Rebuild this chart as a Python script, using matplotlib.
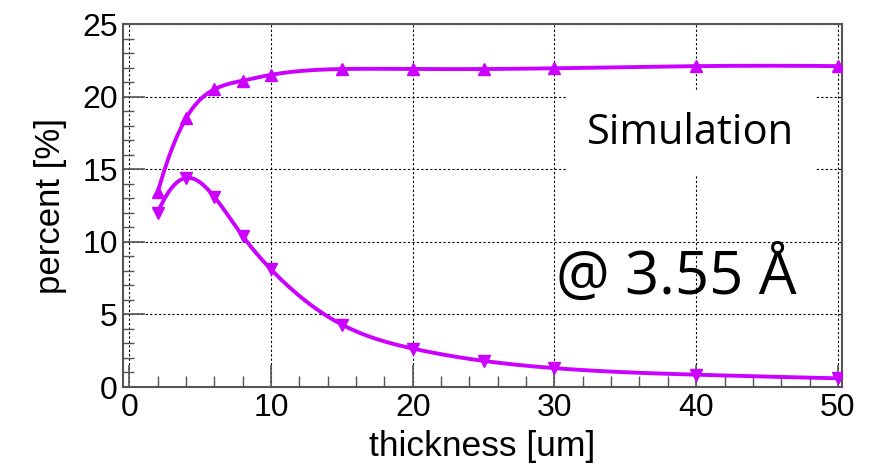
import matplotlib
matplotlib.use("Agg")
import matplotlib.pyplot as plt
import numpy as np
from matplotlib.ticker import MultipleLocator

# thickness [um] and percentages
thickness = [2, 4, 6, 8, 10, 15, 20, 25, 30, 40, 50]
upper_pct = [13.4, 18.5, 20.5, 21.1, 21.5, 21.9, 21.9, 21.9, 21.95, 22.1, 22.1]
lower_pct = [12.0, 14.4, 13.1, 10.4, 8.1, 4.3, 2.65, 1.8, 1.3, 0.85, 0.6]

COLOR = "#cc00ff"
FRAME = "#555555"


def smooth_curve(x, y, n=400):
    """Cubic spline through the points, parabolic run-out at the ends."""
    x = np.asarray(x, float)
    y = np.asarray(y, float)
    k = len(x)
    h = np.diff(x)
    a = np.zeros((k, k))
    b = np.zeros(k)
    a[0, 0], a[0, 1] = 1.0, -1.0
    a[-1, -1], a[-1, -2] = 1.0, -1.0
    for i in range(1, k - 1):
        a[i, i - 1] = h[i - 1]
        a[i, i] = 2 * (h[i - 1] + h[i])
        a[i, i + 1] = h[i]
        b[i] = 6 * ((y[i + 1] - y[i]) / h[i] - (y[i] - y[i - 1]) / h[i - 1])
    m = np.linalg.solve(a, b)
    xs = np.linspace(x[0], x[-1], n)
    idx = np.clip(np.searchsorted(x, xs) - 1, 0, k - 2)
    x0, x1 = x[idx], x[idx + 1]
    hh = x1 - x0
    t0, t1 = x1 - xs, xs - x0
    ys = (m[idx] * t0 ** 3 / (6 * hh) + m[idx + 1] * t1 ** 3 / (6 * hh)
          + (y[idx] / hh - m[idx] * hh / 6) * t0
          + (y[idx + 1] / hh - m[idx + 1] * hh / 6) * t1)
    return xs, ys


plt.rcParams["font.family"] = ["Liberation Sans", "DejaVu Sans"]

fig = plt.figure(figsize=(8.84, 4.69), dpi=100)
ax = fig.add_axes([0.1395, 0.1748, 0.8125, 0.774])

ax.set_xlim(-0.42, 50.26)
ax.set_ylim(0, 25)

for yv, mk in ((upper_pct, "^"), (lower_pct, "v")):
    xs, ys = smooth_curve(thickness, yv)
    ax.plot(xs, ys, color=COLOR, lw=2.8, zorder=3, solid_capstyle="round")
    ax.plot(thickness, yv, ls="none", marker=mk, ms=8, color=COLOR, zorder=4)

ax.xaxis.set_major_locator(MultipleLocator(10))
ax.xaxis.set_minor_locator(MultipleLocator(2))
ax.yaxis.set_major_locator(MultipleLocator(5))
ax.yaxis.set_minor_locator(MultipleLocator(1))
ax.tick_params(which="both", direction="in", top=False, right=False,
               color=FRAME, labelsize=23, pad=4)
ax.tick_params(which="major", length=16, width=1.2)
ax.tick_params(which="minor", length=8, width=1.0)

ax.grid(True, which="major", color="black", ls=(0, (2, 2)), lw=0.8, zorder=1)
for sp in ax.spines.values():
    sp.set_color(FRAME)
    sp.set_linewidth(1.5)

ax.set_xlabel("thickness [um]", fontsize=25.5, labelpad=5)
ax.set_ylabel("percent [%]", fontsize=25, labelpad=11)

ax.text(0.79, 0.70, "Simulation", transform=ax.transAxes, ha="center",
        va="center", fontsize=30, family=["Open Sans", "DejaVu Sans"],
        zorder=2, bbox=dict(facecolor="white", edgecolor="none",
                            boxstyle="square,pad=0.5"))
ax.text(0.77, 0.30, "@ 3.55 Å", transform=ax.transAxes, ha="center",
        va="center", fontsize=43, family=["Open Sans", "DejaVu Sans"],
        zorder=2)

fig.savefig("out.png", dpi=100)
